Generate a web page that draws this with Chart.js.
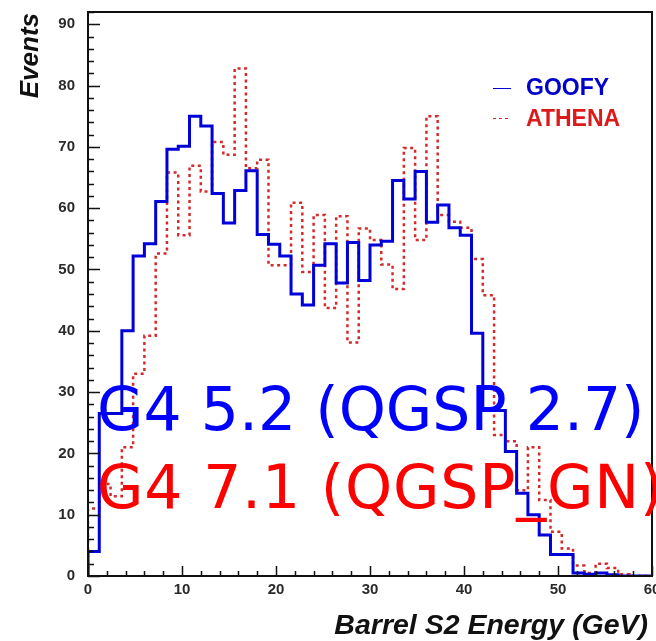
<!DOCTYPE html>
<html>
<head>
<meta charset="utf-8">
<script src="https://cdn.jsdelivr.net/npm/chart.js@4.4.1/dist/chart.umd.min.js"></script>
<style>
  body { margin: 0; background: #fff; }
  canvas { display: block; }
</style>
</head>
<body>
<canvas id="myChart" width="656" height="641"></canvas>
<script>
// 50 bins from 0 to 60 GeV
const binWidth = 1.2;
const goofy = [
  4, 26.5, 26.5, 40, 52.2, 54.2, 61.1, 69.6, 70.1, 75.0,
  73.4, 62.4, 57.6, 62.9, 66.1, 55.7, 54.1, 52.2, 46.0, 44.2,
  50.7, 54.2, 47.8, 54.4, 48.2, 54.0, 54.6, 64.5, 61.5, 66.0,
  57.7, 60.5, 56.8, 55.6, 39.6, 27, 27, 20.3, 13.5, 10.0,
  6.7, 3.5, 3.5, 0.5, 0.3, 0.5, 0.2, 0, 0, 0
];
const athena = [
  11, 15, 13, 21, 33, 39.2, 52.6, 65.8, 55.6, 66.9,
  62.7, 70.8, 68.7, 82.8, 66.5, 67.9, 50.7, 50.7, 60.9, 49.6,
  58.9, 43.7, 58.7, 38.1, 56.7, 54.8, 50.8, 46.8, 69.8, 54.8,
  75.0, 58.9, 57.8, 56.8, 51.7, 45.8, 23, 22, 14, 21,
  12.4, 7.2, 4.5, 1.7, 0.5, 2, 1.3, 0.3, 0, 0
];
const xTicks = [0, 10, 20, 30, 40, 50, 60];
const yTicks = [0, 10, 20, 30, 40, 50, 60, 70, 80, 90];
const seriesNames = ['GOOFY', 'ATHENA'];
const overlayLines = ['G4 5.2 (QGSP 2.7)', 'G4 7.1 (QGSP_GN)'];

const blue = '#0000d8';
const red = '#d42a2a';

function histPoints(values) {
    const pts = [{ x: 0, y: 0 }];
    values.forEach((v, i) => pts.push({ x: i * binWidth, y: v }));
    pts.push({ x: values.length * binWidth, y: values[values.length - 1] });
    return pts;
}

const framePlugin = {
    id: 'frame',
    afterDatasetsDraw(chart) {
        const { ctx, chartArea: a, scales: { x, y } } = chart;
        ctx.save();
        ctx.strokeStyle = '#111';
        ctx.lineWidth = 1.5;
        // minor + major ticks, pointing inwards
        ctx.beginPath();
        for (let v = 0; v <= 92; v += 2) {
            const py = Math.round(y.getPixelForValue(v)) + 0.5;
            const len = v % 10 === 0 ? 12 : 6;
            ctx.moveTo(a.left, py);
            ctx.lineTo(a.left + len, py);
        }
        for (let v = 0; v <= 60; v += 2) {
            const px = Math.round(x.getPixelForValue(v)) + 0.5;
            const len = v % 10 === 0 ? 10 : 5;
            ctx.moveTo(px, a.bottom);
            ctx.lineTo(px, a.bottom - len);
        }
        ctx.stroke();
        ctx.lineWidth = 2;
        ctx.strokeRect(a.left, a.top, a.right - a.left, a.bottom - a.top);

        // tick labels
        ctx.fillStyle = '#2a2a2a';
        ctx.font = 'bold 15px "Liberation Sans", Arial, sans-serif';
        ctx.textAlign = 'right';
        ctx.textBaseline = 'middle';
        yTicks.forEach(v => ctx.fillText(String(v), a.left - 13, y.getPixelForValue(v)));
        ctx.textAlign = 'center';
        ctx.textBaseline = 'top';
        xTicks.forEach(v => ctx.fillText(String(v), x.getPixelForValue(v), a.bottom + 6));

        // axis titles
        ctx.fillStyle = '#111';
        ctx.font = 'italic bold 28.5px "Liberation Sans", Arial, sans-serif';
        ctx.textAlign = 'right';
        ctx.textBaseline = 'alphabetic';
        ctx.fillText('Barrel S2 Energy (GeV)', 648, 634);
        ctx.save();
        ctx.translate(38, 13);
        ctx.rotate(-Math.PI / 2);
        ctx.font = 'italic bold 26px "Liberation Sans", Arial, sans-serif';
        ctx.fillText('Events', 0, 0);
        ctx.restore();

        // legend
        ctx.lineWidth = 1;
        ctx.strokeStyle = blue;
        ctx.beginPath();
        ctx.moveTo(493, 88.5);
        ctx.lineTo(511, 88.5);
        ctx.stroke();
        ctx.strokeStyle = red;
        ctx.setLineDash([3, 3]);
        ctx.beginPath();
        ctx.moveTo(493, 118.5);
        ctx.lineTo(511, 118.5);
        ctx.stroke();
        ctx.setLineDash([]);
        ctx.font = 'bold 23px "Liberation Sans", Arial, sans-serif';
        ctx.textAlign = 'left';
        ctx.textBaseline = 'middle';
        ctx.fillStyle = '#0000cc';
        ctx.fillText(seriesNames[0], 526, 89);
        ctx.fillStyle = '#dd1a1a';
        ctx.fillText(seriesNames[1], 526, 120);
        ctx.restore();
    },
    afterDraw(chart) {
        const ctx = chart.ctx;
        ctx.save();
        ctx.font = '60px "DejaVu Sans", sans-serif';
        ctx.textAlign = 'left';
        ctx.textBaseline = 'alphabetic';
        ctx.fillStyle = '#0000ff';
        ctx.fillText(overlayLines[0], 97, 430);
        ctx.fillStyle = '#ff0000';
        ctx.letterSpacing = '0.8px';
        ctx.fillText(overlayLines[1], 97, 508);
        ctx.restore();
    }
};

const ctx = document.getElementById('myChart').getContext('2d');
const myChart = new Chart(ctx, {
    type: 'line',
    data: {
        datasets: [{
            label: seriesNames[0],
            data: histPoints(goofy),
            borderColor: blue,
            borderWidth: 3,
            stepped: true,
            pointRadius: 0,
            fill: false,
        }, {
            label: seriesNames[1],
            data: histPoints(athena),
            borderColor: red,
            borderWidth: 2.5,
            borderDash: [3, 3.5],
            stepped: true,
            pointRadius: 0,
            fill: false,
        }]
    },
    options: {
        responsive: false,
        animation: false,
        layout: { padding: { left: 88, top: 12, right: 4, bottom: 65 } },
        scales: {
            x: { type: 'linear', min: 0, max: 60, display: false },
            y: { type: 'linear', min: 0, max: 92, display: false }
        },
        plugins: {
            legend: { display: false },
            tooltip: { enabled: false }
        }
    },
    plugins: [framePlugin]
});
</script>
</body>
</html>
